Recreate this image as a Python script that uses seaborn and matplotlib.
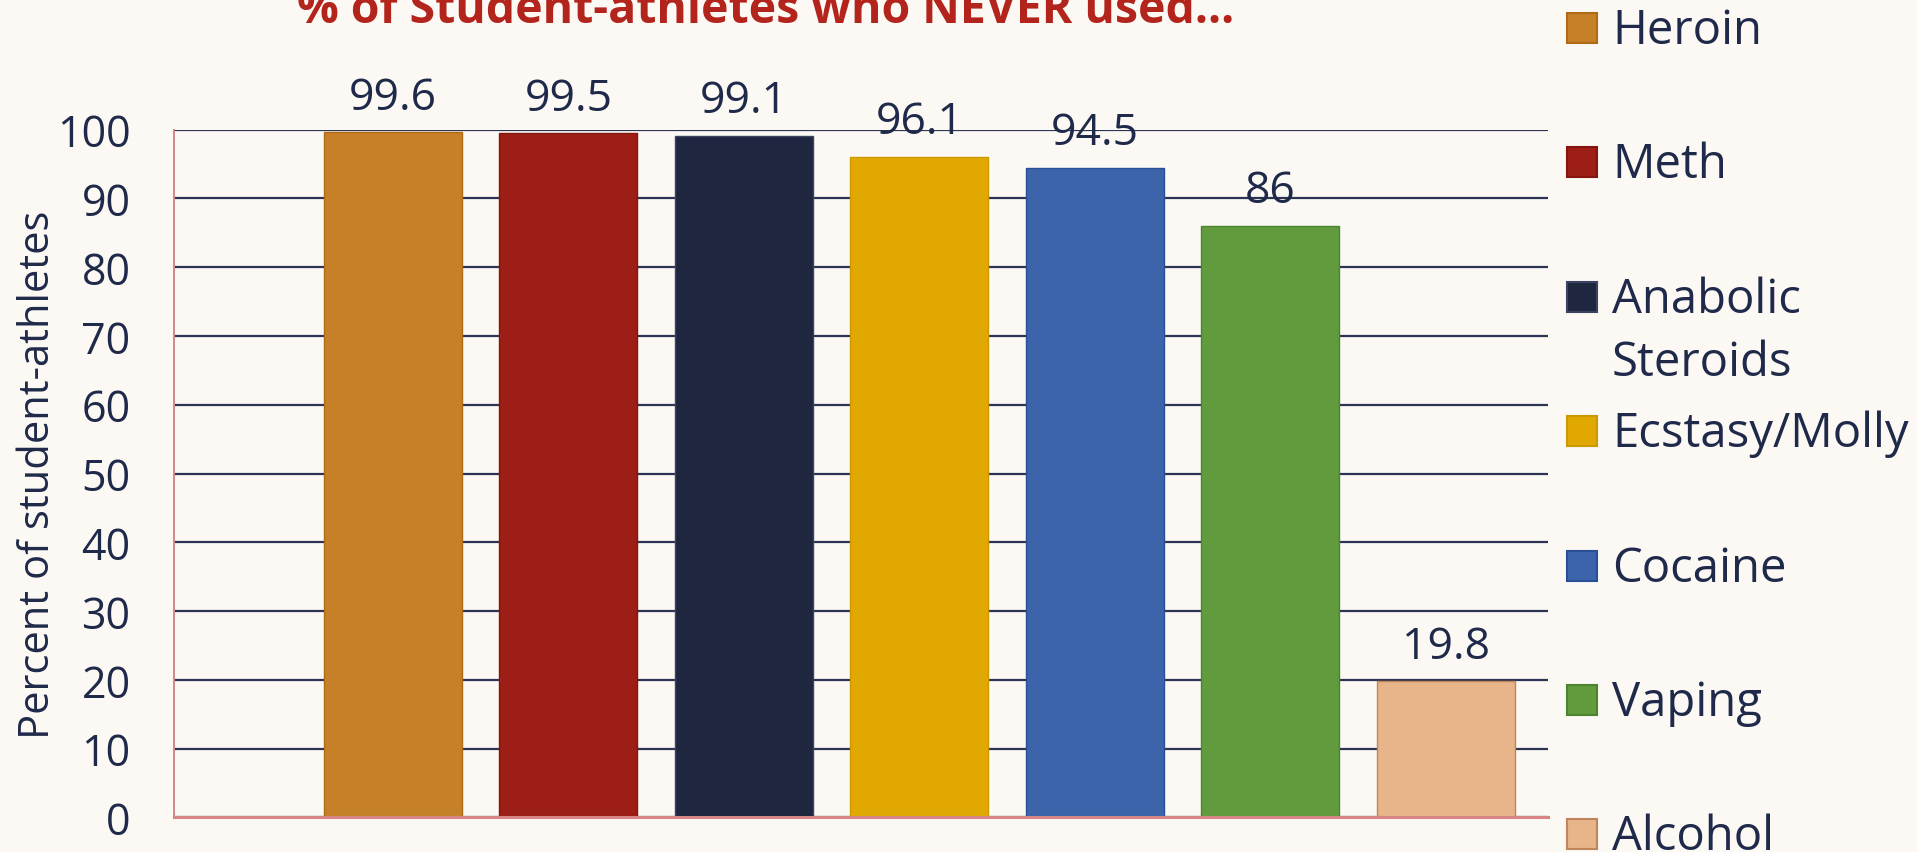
import matplotlib
matplotlib.use("Agg")
import matplotlib.pyplot as plt
import seaborn as sns
import pandas as pd
from matplotlib.patches import Rectangle

# ---- data ----
substances = ["Heroin", "Meth", "Anabolic Steroids", "Ecstasy/Molly", "Cocaine", "Vaping", "Alcohol"]
legend_labels = ["Heroin", "Meth", "Anabolic\nSteroids", "Ecstasy/Molly", "Cocaine", "Vaping", "Alcohol"]
never_used_pct = [99.6, 99.5, 99.1, 96.1, 94.5, 86, 19.8]
bar_colors = ["#C58028", "#9C1E16", "#1E2640", "#E0A800", "#3B64AA", "#629A3E", "#E8B48A"]
edge_colors = ["#B06A15", "#85150F", "#3A4462", "#CC9A00", "#2A4F96", "#4D8430", "#C0855A"]
y_ticks = [0, 10, 20, 30, 40, 50, 60, 70, 80, 90, 100]
title_text = "% of Student-athletes who NEVER used..."
y_label = "Percent of student-athletes"

BG = "#FCF9F4"
NAVY = "#1F2A4A"
GRID = "#2B3452"
PINK = "#D88585"

sns.set_theme(style="white")
plt.rcParams["font.family"] = ["Open Sans", "DejaVu Sans"]

W, H = 1917, 853
fig = plt.figure(figsize=(W / 100, H / 100), dpi=100, facecolor=BG)
ax_left, ax_right, ax_top, ax_bottom = 173.6, 1548.0, 130.7, 818.3
ax = fig.add_axes([ax_left / W, 1 - ax_bottom / H, (ax_right - ax_left) / W, (ax_bottom - ax_top) / H])
ax.set_facecolor(BG)

df = pd.DataFrame({"substance": substances, "pct": never_used_pct})
sns.barplot(data=df, x="substance", y="pct", hue="substance", palette=bar_colors,
            legend=False, ax=ax, width=0.787, saturation=1, linewidth=1.0)
for patch, ec in zip(ax.patches, edge_colors):
    patch.set_edgecolor(ec)

for cont in ax.containers:
    ax.bar_label(cont, labels=[f"{v:g}" for v in cont.datavalues], padding=9,
                 fontsize=32, color=NAVY)

ax.set_ylim(0, 100)
ax.set_xlim(-1.251, 6.584)
ax.set_yticks(y_ticks)
ax.set_yticklabels([str(t) for t in y_ticks])
ax.tick_params(axis="y", length=0, pad=31, labelsize=31, labelcolor=NAVY)
ax.tick_params(axis="x", length=0, labelbottom=False)
ax.set_xlabel("")
ax.yaxis.grid(True, color=GRID, linewidth=1.6)
ax.xaxis.grid(False)
ax.set_axisbelow(True)

for side in ["top", "right"]:
    ax.spines[side].set_visible(False)
ax.spines["left"].set_color(PINK)
ax.spines["left"].set_linewidth(1.4)
ax.spines["bottom"].set_color(PINK)
ax.spines["bottom"].set_linewidth(2.2)
ax.spines["bottom"].set_zorder(5)

ax.set_ylabel(y_label, fontsize=30, color=NAVY)
ax.yaxis.set_label_coords((38 - ax_left) / (ax_right - ax_left), 0.5)
ax.yaxis.label.set_va("center")

fig.text(766 / W, 1 - 23 / H, title_text, ha="center", va="baseline",
         fontsize=33.4, fontweight="bold", color="#B3241C")

# ---- legend (manual, equal slots like the original) ----
sq = 30
for i, (lab, fc, ec) in enumerate(zip(legend_labels, bar_colors, edge_colors)):
    cy = 29 + 134.4 * i
    fig.add_artist(Rectangle((1567 / W, 1 - (cy + sq / 2) / H), sq / W, sq / H,
                             transform=fig.transFigure, facecolor=fc, edgecolor=ec, linewidth=1.5))
    for j, line in enumerate(lab.split("\n")):
        fig.text(1612 / W, 1 - (cy + 15 + 63 * j) / H, line, ha="left", va="baseline",
                 fontsize=34, color=NAVY)

fig.savefig("out.png", dpi=100, facecolor=BG)
